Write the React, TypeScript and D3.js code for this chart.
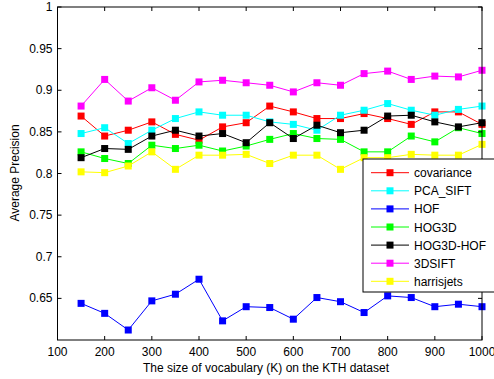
import React from "react";
import * as d3 from "d3";

const vocab = [150, 200, 250, 300, 350, 400, 450, 500, 550, 600, 650, 700, 750, 800, 850, 900, 950, 1000];

const covariance = [0.869, 0.845, 0.852, 0.862, 0.847, 0.84, 0.856, 0.861, 0.881, 0.874, 0.866, 0.866, 0.872, 0.866, 0.859, 0.874, 0.874, 0.859];
const pcaSift = [0.848, 0.855, 0.836, 0.852, 0.866, 0.874, 0.87, 0.87, 0.862, 0.859, 0.852, 0.87, 0.876, 0.884, 0.876, 0.87, 0.877, 0.881];
const hof = [0.644, 0.632, 0.612, 0.647, 0.655, 0.673, 0.623, 0.64, 0.639, 0.625, 0.651, 0.646, 0.633, 0.653, 0.651, 0.64, 0.643, 0.64];
const hog3d = [0.826, 0.818, 0.812, 0.834, 0.83, 0.834, 0.827, 0.833, 0.841, 0.848, 0.842, 0.841, 0.826, 0.826, 0.845, 0.838, 0.855, 0.848];
const hog3dHof = [0.819, 0.83, 0.829, 0.845, 0.852, 0.845, 0.848, 0.837, 0.861, 0.842, 0.858, 0.849, 0.852, 0.869, 0.87, 0.862, 0.856, 0.861];
const sift3d = [0.881, 0.913, 0.887, 0.903, 0.888, 0.91, 0.912, 0.909, 0.906, 0.898, 0.909, 0.906, 0.92, 0.923, 0.913, 0.917, 0.916, 0.924];
const harrisjets = [0.802, 0.801, 0.809, 0.826, 0.805, 0.822, 0.822, 0.823, 0.812, 0.822, 0.822, 0.805, 0.819, 0.819, 0.823, 0.822, 0.822, 0.835];

const seriesNames = ["covariance", "PCA_SIFT", "HOF", "HOG3D", "HOG3D-HOF", "3DSIFT", "harrisjets"];
const seriesColors = ["#ff0000", "#00ffff", "#0000ff", "#00ff00", "#000000", "#ff00ff", "#ffff00"];
const seriesValues = [covariance, pcaSift, hof, hog3d, hog3dHof, sift3d, harrisjets];

const xTicks = [100, 200, 300, 400, 500, 600, 700, 800, 900, 1000];
const yTicks = [0.65, 0.7, 0.75, 0.8, 0.85, 0.9, 0.95, 1];

const width = 494;
const height = 379;
const plot = { left: 57.5, right: 482, top: 7, bottom: 340 };
const font = "Arial, 'Liberation Sans', sans-serif";

export default function App() {
  const x = d3.scaleLinear().domain([100, 1000]).range([plot.left, plot.right]);
  const y = d3.scaleLinear().domain([0.6, 1]).range([plot.bottom, plot.top]);
  const line = d3
    .line<number>()
    .x((_, i) => x(vocab[i]))
    .y((d) => y(d));

  const tick = 4;
  const ms = 7;

  // legend placement
  const lg = { x: 363, y: 159, w: 140, h: 133, row: 18.1 };

  return (
    <svg
      width={width}
      height={height}
      style={{ position: "absolute", left: 0, top: 0, background: "#fff" }}
      fontFamily={font}
    >
      <rect x={0} y={0} width={width} height={height} fill="#fff" />

      {/* series */}
      {seriesValues.map((vals, s) => (
        <g key={seriesNames[s]}>
          <path d={line(vals) || ""} fill="none" stroke={seriesColors[s]} strokeWidth={1} />
          {vals.map((v, i) => (
            <rect
              key={i}
              x={x(vocab[i]) - ms / 2}
              y={y(v) - ms / 2}
              width={ms}
              height={ms}
              fill={seriesColors[s]}
            />
          ))}
        </g>
      ))}

      {/* axes box */}
      <rect
        x={plot.left}
        y={plot.top}
        width={plot.right - plot.left}
        height={plot.bottom - plot.top}
        fill="none"
        stroke="#000"
        strokeWidth={1}
      />
      {xTicks.map((t) => (
        <g key={"x" + t}>
          <line x1={x(t)} x2={x(t)} y1={plot.bottom} y2={plot.bottom - tick} stroke="#000" />
          <line x1={x(t)} x2={x(t)} y1={plot.top} y2={plot.top + tick} stroke="#000" />
          <text x={x(t)} y={356} textAnchor="middle" fontSize={12}>
            {t}
          </text>
        </g>
      ))}
      {yTicks.map((t) => (
        <g key={"y" + t}>
          <line x1={plot.left} x2={plot.left + tick} y1={y(t)} y2={y(t)} stroke="#000" />
          <line x1={plot.right} x2={plot.right - tick} y1={y(t)} y2={y(t)} stroke="#000" />
          <text x={plot.left - 5} y={y(t) + 4} textAnchor="end" fontSize={12}>
            {t}
          </text>
        </g>
      ))}

      <text x={266} y={372} textAnchor="middle" fontSize={12}>
        The size of vocabulary (K) on the KTH dataset
      </text>
      <text transform="translate(18.5,173) rotate(-90)" textAnchor="middle" fontSize={12}>
        Average Precision
      </text>

      {/* legend */}
      <rect x={lg.x} y={lg.y} width={lg.w} height={lg.h} fill="#fff" stroke="#000" strokeWidth={1} />
      {seriesNames.map((name, s) => {
        const cy = lg.y + 13.7 + s * lg.row;
        return (
          <g key={"lg" + name}>
            <line x1={371} x2={409} y1={cy} y2={cy} stroke={seriesColors[s]} />
            <rect x={390 - ms / 2} y={cy - ms / 2} width={ms} height={ms} fill={seriesColors[s]} />
            <text x={414} y={cy + 4.5} fontSize={12}>
              {name}
            </text>
          </g>
        );
      })}
    </svg>
  );
}
